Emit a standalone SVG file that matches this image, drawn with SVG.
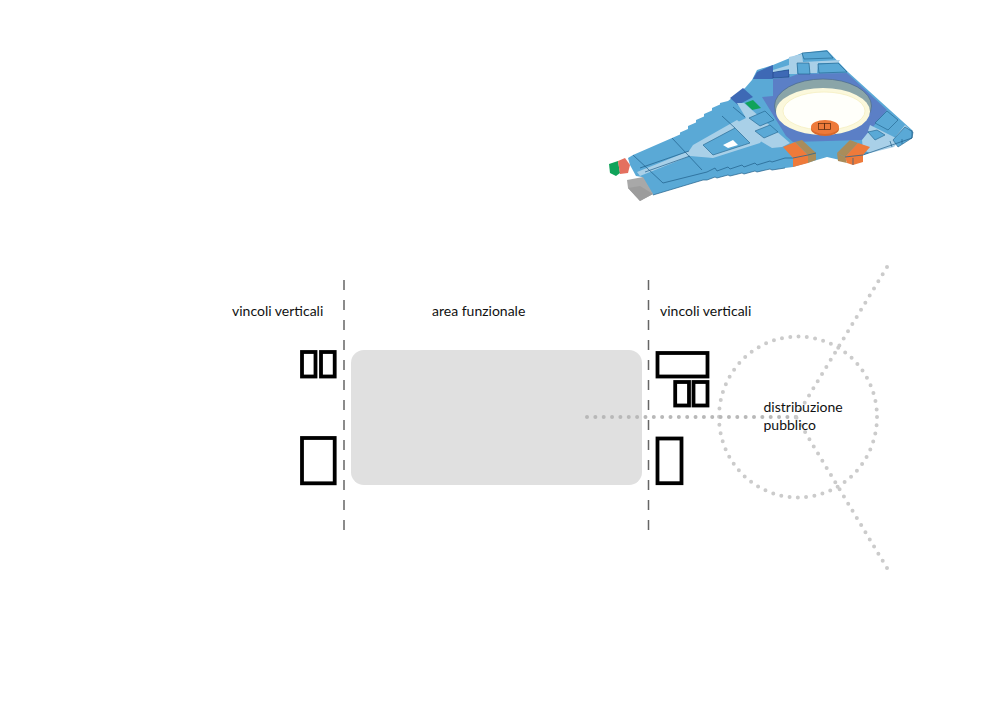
<svg xmlns="http://www.w3.org/2000/svg" width="993" height="702" viewBox="0 0 993 702">
<style>
text{font-family:"Lato","Liberation Sans",sans-serif;font-size:14px;fill:#111}
.box{fill:#fff;stroke:#000;stroke-width:3.8}
.dash{stroke:#666;stroke-width:1.5;stroke-dasharray:10 10;fill:none}
.dot{stroke:#cbcbcb;stroke-width:4;stroke-linecap:round;stroke-dasharray:0 8.35;fill:none}
.b{fill:#5aa9d6;stroke:#1f5f8a;stroke-width:.6}
.c{fill:#a9d0e8}
.l{fill:none;stroke:#1f5f8a;stroke-width:.7}
</style>
<rect width="993" height="702" fill="#fff"/>
<g id="building">
<polygon fill="#5aa9d6" points="628,158 633,155 672,138 680,134.500 680,132.500 688,129 688,126 696,122.500 696,120 704,116.500 704,114 712,110.500 712,108 720,104.500 720,103 728,101 745,88 752,80 757,70 773,65 802,53 827,50 848,72 912,130 912,138 863,155 863,162 840,160 827,157 793,167 785,168 772,170 770,169 757,172 755,171 744,174 742,173 730,176 728,175 717,178 715,177 707,180 703,180 653,195 642,177 636,176 630,165"/>
<polygon fill="#4f9cc9" points="912,130 912,138 863,155 863,149"/>
<polygon fill="#5b7fc6" points="773,79 790,77 798,74 847,73 887,110 862,140 793,142 786,136 762,97 773,96"/>
<polygon fill="#3e69b5" points="757,72 773,65 773,79 753,79"/>
<polygon fill="#3e69b5" points="730,98 743,88 753,97 738,105"/>
<polygon fill="#3e69b5" stroke="#1f3f80" stroke-width=".6" points="773,72 789,70 789,77 773,78"/>
<polygon fill="#0fa35a" points="745,103 753,100 761,108 752,110"/>
<path class="c" d="M789,57 L802,54 L803,62 L840,60 L838,63 L818,63 L817,73 L810,73 L809,63 L797,63 L797,74 L789,74Z"/>
<polygon class="c" points="773,70 789,65 789,69 773,72"/>
<path class="c" d="M737,103 L744,103 L790,143 L782,147 L772,148 L749,134 L738,122 L746,118Z"/>
<polygon class="c" points="637,172 689,151 693,145 737,120 762,140 760,143 713,158 690,156 640,176"/>
<polygon fill="#5aa9d6" stroke="#1f5f8a" stroke-width=".6" points="703,145 735,128 750,143 713,155"/>
<polygon fill="#fff" points="723,145 733,140 738,145 728,148"/>
<polygon class="b" points="749,118 765,111 774,120 760,126"/>
<polygon class="b" points="755,131 770,125 778,132 764,138"/>
<polygon class="c" points="862,140 870,130 893,140 905,125 909,129 894,147 870,153 863,150"/>
<polygon class="c" points="870,125 896,138 893,141 868,131"/>
<polygon class="b" points="802,53 827,51 833,58 804,59"/>
<polygon class="b" points="797,63 809,63 810,74 798,74"/>
<polygon class="b" points="818,64 838,63 847,72 819,73"/>
<polygon class="b" points="875,123 887,111 898,120 888,130"/>
<polygon class="b" points="868,132 877,130 885,135 875,140"/>
<polygon class="b" points="893,140 905,127 913,132 912,138 898,147"/>
<path class="l" d="M672,138 L702,170 M633,155 L663,183 L707,172 L715,168 L717,171 L728,167 L730,169 L742,165 L744,167 L755,163 L757,165 L770,161 L772,162 L785,158 L793,158 M653,195 L703,180 L707,180 L715,177 L717,178 L728,175 L730,176 L742,173 L744,174 L755,171 L757,172 L770,169 L772,170 L785,168 M645,172 L690,156 M640,168 L689,151 M912,130 L912,138 L863,155 M892,147 L890,141 M902,144 L902,139 M733,107 L745,117 M722,116 L735,128"/>
<ellipse cx="823" cy="106" rx="48.500" ry="27" fill="#8aa5a8" stroke="#4b6a8a" stroke-width=".7"/>
<ellipse cx="823" cy="111.500" rx="47" ry="23.500" fill="#fbf8dc"/>
<ellipse cx="824" cy="111" rx="41" ry="19" fill="#fffffa" stroke="#f5efc0" stroke-width=".8"/>
<ellipse cx="825" cy="129" rx="14" ry="7" fill="#d9682b"/>
<ellipse cx="825" cy="127" rx="14" ry="7" fill="#ee7a3a"/>
<rect x="818.500" y="123.500" width="6" height="6" fill="none" stroke="#5a2c10" stroke-width=".7"/>
<rect x="824.500" y="123.500" width="6" height="6" fill="none" stroke="#5a2c10" stroke-width=".7"/>
<polygon fill="#ee7a3a" points="783,147 795,142 808,155 793,158"/>
<polygon fill="#a98c5a" points="795,142 802,140 816,153 808,155"/>
<polygon fill="#ee7a3a" points="793,158 808,155 808,163 793,167"/>
<polygon fill="#a98c5a" points="808,155 816,153 816,160 808,163"/>
<polygon fill="#a98c5a" points="837,153 850,140 858,143 845,157"/>
<polygon fill="#ee7a3a" points="845,157 858,143 870,147 863,155"/>
<polygon fill="#a98c5a" points="837,153 845,157 847,163 838,161"/>
<polygon fill="#ee7a3a" points="845,157 863,155 863,162 853,165 847,163"/>
<path class="l" d="M793,158 L808,155 L816,153 M845,157 L863,155 M853,158 L853,165"/>
<polygon fill="#0fa35a" points="609,164 618,161 620,173 616,176 610,173"/>
<polygon fill="#e4705f" points="618,161 625,158 630,165 628,173 620,174"/>
<polygon fill="#a8a8a8" points="627,180 643,177 653,194 640,201 628,188"/>
<polygon fill="#9c9c9c" points="628,188 640,186 653,194 640,201"/>
</g>
<g id="area-funzionale">
<rect x="351" y="350" width="291" height="135" rx="13" fill="#e0e0e0"/>
<text x="432" y="316">area funzionale</text>
</g>
<g id="connectors">
<line class="dash" x1="344" y1="280" x2="344" y2="530"/>
<line class="dash" x1="648.500" y1="280" x2="648.500" y2="530"/>
<ellipse class="dot" cx="798" cy="417" rx="79" ry="80.500"/>
<line class="dot" style="stroke:#b8b8b8" x1="587" y1="417" x2="796" y2="417"/>
<line class="dot" x1="887" y1="267" x2="796" y2="417"/>
<line class="dot" x1="887" y1="568" x2="796" y2="417"/>
</g>
<g id="vincoli-sinistra">
<rect class="box" x="302" y="352" width="13.500" height="24.500"/>
<rect class="box" x="321" y="352" width="13.700" height="24.500"/>
<rect class="box" x="302" y="438" width="32.700" height="45.300"/>
<text x="232" y="316">vincoli verticali</text>
</g>
<g id="vincoli-destra">
<rect class="box" x="657.500" y="353" width="50" height="23.500"/>
<rect class="box" x="675.200" y="382" width="13.800" height="23.500"/>
<rect class="box" x="693.500" y="382" width="14" height="23.500"/>
<rect class="box" x="657.500" y="438.500" width="24" height="44.700"/>
<text x="660" y="316">vincoli verticali</text>
</g>
<g id="distribuzione">
<text x="763.500" y="412">distribuzione</text>
<text x="763.500" y="430">pubblico</text>
</g>
</svg>
